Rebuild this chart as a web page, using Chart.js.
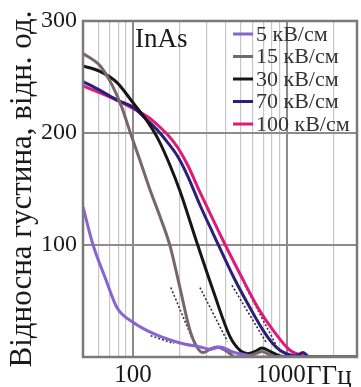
<!DOCTYPE html>
<html>
<head>
<meta charset="utf-8">
<script src="https://cdn.jsdelivr.net/npm/chart.js@4.4.1/dist/chart.umd.min.js"></script>
<style>
html, body { margin: 0; padding: 0; background: #fff; }
#wrap { width: 361px; height: 387px; position: relative; }
</style>
</head>
<body>
<div id="wrap"><canvas id="chart-inas"></canvas></div>
<script>
// ==================== DATA ====================
const serieNombres = ['5 кВ/см', '15 кВ/см', '30 кВ/см', '70 кВ/см', '100 кВ/см'];
const serieColores = ['#8a63d2', '#77666b', '#161616', '#2b1f78', '#e01a78'];

// frequency (GHz) / relative density
const f5 = [47.3, 55, 65.8, 78.7, 100, 135, 202, 272, 317, 367, 445, 533, 620, 1000, 2850];
const v5 = [134, 100, 71, 44, 31, 21, 12.5, 9, 7, 9, 4.5, 2, 0, 0, 0];

const f15 = [47.3, 61, 73, 84, 95.6, 110, 129, 150, 174, 200, 234, 260, 285, 317, 350, 408, 460, 600, 690, 800, 1000, 2850];
const v15 = [271, 260, 243, 224, 201, 177, 149, 125, 99, 64, 24, 9, 4, 7, 9, 5, 0, 2, 5, 1, 0, 0];

const f30 = [47.3, 61, 78.7, 100, 120, 145, 174, 202, 260, 330, 427, 495, 557, 620, 688, 775, 900, 1046, 2850];
const v30 = [260, 255, 245, 227, 213, 195, 171, 148, 102, 60, 18, 6, 3, 5, 8, 5, 1, 0, 0];

const f70 = [47.3, 61, 80, 100, 120, 143, 169, 196, 228, 272, 330, 459, 575, 698, 797, 900, 1000, 1130, 1272, 1400, 2850];
const v70 = [246, 238, 229, 223, 213, 203, 191, 178.6, 160.7, 135.7, 110.7, 69, 44, 24, 13, 6, 2.7, 1, 4, 0, 0];

const f100 = [47.3, 71, 100, 129, 150, 169, 196, 228, 264, 307, 378, 511, 648, 811, 1046, 1210, 1400, 2850];
const v100 = [242, 232, 222, 213, 205, 198, 186.6, 170.5, 151, 132, 106, 70.5, 44, 24, 6, 2, 0, 0];

// dashed fit lines
const fitF5 = [130, 185];   const fitV5 = [19, 12];
const fitF15 = [176, 250];  const fitV15 = [62, 12];
const fitF30 = [272, 410];  const fitV30 = [62, 14];
const fitF70 = [439, 740];  const fitV70 = [64, 12];
const fitF100 = [533, 862]; const fitV100 = [64, 9];

const xTicks = [60, 70, 80, 90, 100, 200, 300, 400, 500, 600, 700, 800, 900, 1000, 2000];
const xLabels = [100, 1000];
const yTicks = [0, 100, 200, 300];
const yLabels = [100, 200, 300];

const SERIF = "'Liberation Serif', 'Times New Roman', serif";

const puntos = (fs, vs) => fs.map((f, i) => ({ x: f, y: vs[i] }));

const curvas = [[f5, v5], [f15, v15], [f30, v30], [f70, v70], [f100, v100]];
const ajustes = [[fitF5, fitV5], [fitF15, fitV15], [fitF30, fitV30], [fitF70, fitV70], [fitF100, fitV100]];

const datasets = curvas.map(([fs, vs], i) => ({
    label: serieNombres[i],
    data: puntos(fs, vs),
    borderColor: serieColores[i],
    borderWidth: 3,
    pointRadius: 0,
    cubicInterpolationMode: 'monotone'
}));
ajustes.forEach(([fs, vs]) => {
    datasets.push({
        label: 'fit',
        data: puntos(fs, vs),
        borderColor: '#333',
        borderWidth: 1.6,
        borderDash: [2, 2],
        pointRadius: 0
    });
});

// ==================== PLUGIN: border, legend, notes ====================
const extrasPlugin = {
    id: 'extras',
    afterDatasetsDraw(chart) {
        const { ctx, chartArea: a } = chart;
        ctx.save();
        ctx.strokeStyle = '#7a7a7a';
        ctx.lineWidth = 2.5;
        ctx.strokeRect(a.left, a.top, a.right - a.left, a.bottom - a.top);

        // InAs
        ctx.fillStyle = '#1a1a1a';
        ctx.font = '27px ' + SERIF;
        ctx.textBaseline = 'alphabetic';
        ctx.textAlign = 'left';
        ctx.fillText('InAs', 135, 47);

        // legend
        ctx.font = '22px ' + SERIF;
        ctx.textBaseline = 'middle';
        serieNombres.forEach((n, i) => {
            const y = 34 + i * 22.5;
            ctx.strokeStyle = serieColores[i];
            ctx.lineWidth = 3;
            ctx.beginPath();
            ctx.moveTo(233, y);
            ctx.lineTo(253, y);
            ctx.stroke();
            ctx.fillStyle = '#333';
            ctx.fillText(n, 256, y + 1);
        });
        ctx.restore();
    },
    afterDraw(chart) {
        const { ctx } = chart;
        ctx.save();
        ctx.font = '27px ' + SERIF;
        ctx.fillStyle = '#1a1a1a';
        ctx.textBaseline = 'alphabetic';
        ctx.textAlign = 'left';
        ctx.fillText('ГГц', 306, 384);
        ctx.restore();
    }
};

// ==================== CHART ====================
const ctx = document.getElementById('chart-inas').getContext('2d');
window.inasChart = new Chart(ctx, {
    type: 'line',
    data: { datasets },
    plugins: [extrasPlugin],
    options: {
        responsive: true,
        maintainAspectRatio: false,
        devicePixelRatio: 1,
        animation: false,
        layout: { padding: { top: 21, right: 4, left: 0, bottom: 0 } },
        plugins: { legend: { display: false }, tooltip: { enabled: false } },
        scales: {
            x: {
                type: 'logarithmic',
                min: 47.3,
                max: 2850,
                afterBuildTicks: (s) => { s.ticks = xTicks.map(v => ({ value: v })); },
                afterFit: (s) => { s.height = 30; },
                border: { display: false },
                grid: {
                    drawTicks: false,
                    color: (c) => (c.tick && xLabels.includes(c.tick.value)) ? '#8c8c8c' : '#c6c6c6',
                    lineWidth: (c) => (c.tick && xLabels.includes(c.tick.value)) ? 2 : 1.2
                },
                ticks: {
                    autoSkip: false,
                    maxRotation: 0,
                    padding: 3,
                    color: '#1a1a1a',
                    font: { family: SERIF, size: 25 },
                    callback: (v) => v === 1000 ? '1000  ' : (xLabels.includes(v) ? String(v) : '')
                }
            },
            y: {
                min: 0,
                max: 300,
                afterBuildTicks: (s) => { s.ticks = yTicks.map(v => ({ value: v })); },
                afterFit: (s) => { s.width = 83; },
                border: { display: false },
                grid: { drawTicks: false, color: '#8c8c8c', lineWidth: 2 },
                ticks: {
                    padding: 6,
                    color: '#1a1a1a',
                    font: { family: SERIF, size: 24 },
                    callback: (v) => yLabels.includes(v) ? String(v) : ''
                },
                title: {
                    display: true,
                    text: 'Відносна густина, відн. од.',
                    color: '#1a1a1a',
                    font: { family: SERIF, size: 31 },
                    padding: { top: 4, bottom: 0 }
                }
            }
        }
    }
});
</script>
</body>
</html>
